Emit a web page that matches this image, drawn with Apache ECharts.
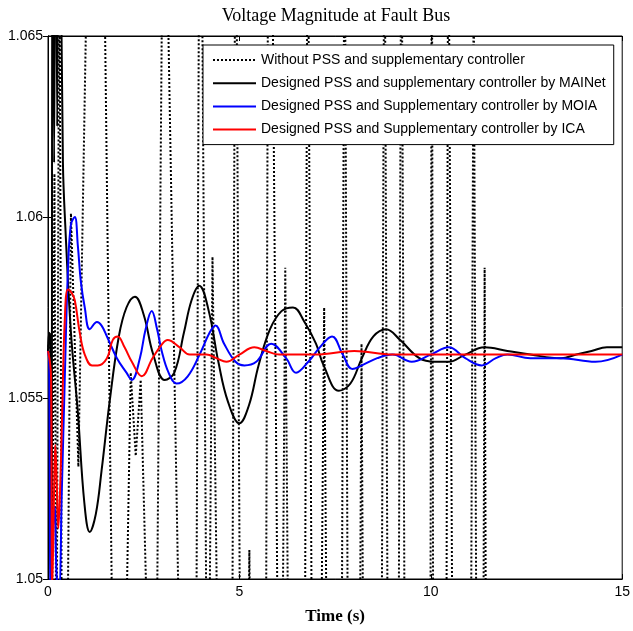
<!DOCTYPE html>
<html>
<head>
<meta charset="utf-8">
<script src="https://cdn.jsdelivr.net/npm/echarts@6/dist/echarts.min.js"></script>
<style>html,body{margin:0;padding:0;background:#fff}#c{width:633px;height:631px}</style>
</head>
<body>
<div id="c"></div>
<script>
const chartTitle = 'Voltage Magnitude at Fault Bus';
const xAxisName = 'Time (s)';
const xTickLabels = ['0', '5', '10', '15'];
const yTickLabels = ['1.05', '1.055', '1.06', '1.065'];
const seriesNames = [
  'Without PSS and supplementary controller',
  'Designed PSS and supplementary controller by MAINet',
  'Designed PSS and Supplementary controller by MOIA',
  'Designed PSS and Supplementary controller by ICA'
];

// Without PSS (dotted) - fast large oscillation, mostly outside the visible range
const tNoPSS = [0, 0.052, 0.091, 0.169, 0.221, 0.299, 0.365, 0.495, 0.599, 0.794, 1.068, 1.380, 1.719, 2.018, 2.161, 2.292, 2.422, 2.630, 2.826, 3.008, 3.047, 3.464, 3.867, 3.953, 3.997, 4.154, 4.206, 4.297, 4.453, 4.805, 4.896, 4.909, 5.026, 5.221, 5.260, 5.299, 5.690, 5.755, 5.833, 6.016, 6.120, 6.198, 6.289, 6.706, 6.784, 6.810, 6.901, 7.122, 7.214, 7.292, 7.669, 7.747, 7.760, 7.839, 8.138, 8.190, 8.242, 8.711, 8.789, 8.802, 8.880, 9.154, 9.232, 9.245, 9.323, 9.987, 10.026, 10.065, 10.404, 10.456, 10.508, 10.573, 11.042, 11.120, 11.198, 11.367, 11.406, 11.445];
const vNoPSS = [1.0563, 1.0568, 1.046, 1.0612, 1.046, 1.069, 1.046, 1.046, 1.0601, 1.0531, 1.070, 1.075, 1.045, 1.047, 1.0557, 1.0534, 1.0555, 1.047, 1.046, 1.070, 1.071, 1.046, 1.046, 1.069, 1.071, 1.046, 1.047, 1.0589, 1.046, 1.046, 1.069, 1.070, 1.046, 1.046, 1.0508, 1.046, 1.046, 1.070, 1.071, 1.046, 1.047, 1.0586, 1.046, 1.046, 1.070, 1.070, 1.046, 1.046, 1.0575, 1.046, 1.046, 1.070, 1.070, 1.046, 1.046, 1.0565, 1.046, 1.046, 1.070, 1.070, 1.046, 1.046, 1.070, 1.070, 1.046, 1.046, 1.070, 1.046, 1.046, 1.070, 1.070, 1.046, 1.046, 1.0665, 1.046, 1.046, 1.0586, 1.046];

// MAINet (black)
const tMAINet = [0, 0.03, 0.06, 0.09, 0.12, 0.16, 0.20, 0.24, 0.28, 0.33, 0.39, 0.45, 0.60, 0.78, 0.95, 1.09, 1.25, 1.40, 1.61, 1.85, 2.05, 2.27, 2.50, 2.75, 3.05, 3.30, 3.55, 3.75, 3.95, 4.20, 4.45, 4.70, 5.00, 5.25, 5.50, 5.80, 6.10, 6.40, 6.70, 7.00, 7.20, 7.60, 7.90, 8.20, 8.50, 8.83, 9.20, 9.70, 10.10, 10.47, 10.90, 11.40, 12.00, 12.60, 13.40, 13.80, 14.20, 14.60, 15.00];
const vMAINet = [1.0563, 1.0568, 1.0566, 1.0460, 1.0720, 1.0615, 1.0720, 1.0625, 1.0720, 1.0680, 1.0615, 1.0598, 1.0568, 1.0546, 1.0521, 1.0513, 1.0518, 1.0530, 1.0549, 1.0567, 1.0575, 1.0578, 1.0573, 1.0562, 1.0555, 1.0557, 1.0568, 1.0577, 1.0581, 1.0574, 1.0560, 1.0549, 1.0543, 1.0548, 1.0559, 1.0569, 1.0574, 1.0575, 1.0571, 1.0565, 1.0559, 1.0552, 1.0554, 1.0561, 1.0567, 1.0569, 1.0566, 1.0561, 1.0560, 1.0560, 1.0562, 1.0564, 1.0563, 1.0562, 1.0561, 1.0562, 1.0563, 1.0564, 1.0564];

// MOIA (blue)
const tMOIA = [0, 0.03, 0.07, 0.12, 0.17, 0.23, 0.29, 0.36, 0.44, 0.52, 0.60, 0.70, 0.78, 0.86, 0.96, 1.09, 1.28, 1.40, 1.54, 1.80, 2.05, 2.19, 2.40, 2.55, 2.71, 2.85, 2.97, 3.15, 3.36, 3.65, 3.96, 4.22, 4.375, 4.60, 4.90, 5.13, 5.44, 5.83, 6.22, 6.48, 6.80, 7.10, 7.42, 7.70, 7.95, 8.20, 8.60, 9.00, 9.50, 10.00, 10.47, 10.90, 11.33, 11.70, 12.00, 12.60, 13.40, 14.30, 15.00];
const vMOIA = [1.0563, 1.0560, 1.0496, 1.0512, 1.0520, 1.0500, 1.0498, 1.0524, 1.0556, 1.0585, 1.0598, 1.0600, 1.0592, 1.0582, 1.0575, 1.0569, 1.0571, 1.0570, 1.0567, 1.0561, 1.0557, 1.0555, 1.0561, 1.0569, 1.0574, 1.0569, 1.0563, 1.0557, 1.0554, 1.0556, 1.0562, 1.0568, 1.0570, 1.0565, 1.0560, 1.0559, 1.0560, 1.0565, 1.0561, 1.0557, 1.0560, 1.0564, 1.0567, 1.0562, 1.0558, 1.0559, 1.0561, 1.0562, 1.0560, 1.0562, 1.0564, 1.0561, 1.0559, 1.0561, 1.0562, 1.0561, 1.0561, 1.0560, 1.0562];

// ICA (red)
const tICA = [0, 0.05, 0.08, 0.11, 0.16, 0.19, 0.23, 0.27, 0.32, 0.37, 0.44, 0.52, 0.62, 0.70, 0.83, 0.96, 1.15, 1.30, 1.54, 1.69, 1.82, 2.00, 2.19, 2.45, 2.73, 2.99, 3.125, 3.44, 3.70, 4.14, 4.40, 4.66, 5.00, 5.39, 5.70, 6.04, 7.00, 8.00, 9.00, 10.00, 11.00, 12.00, 13.00, 14.00, 15.00];
const vICA = [1.0563, 1.0560, 1.0556, 1.0497, 1.0525, 1.0537, 1.0526, 1.0514, 1.0526, 1.0546, 1.0572, 1.0580, 1.0579, 1.0577, 1.0568, 1.0562, 1.0559, 1.0559, 1.0561, 1.0566, 1.0567, 1.0564, 1.0560, 1.0556, 1.0561, 1.0565, 1.0566, 1.0564, 1.0562, 1.0562, 1.0561, 1.0560, 1.0562, 1.0564, 1.0563, 1.0562, 1.0562, 1.0563, 1.0562, 1.0562, 1.0562, 1.0562, 1.0562, 1.0562, 1.0562];

const xMin = 0, xMax = 15, xStep = 5;
const yMin = 1.05, yMax = 1.065, yStep = 0.005;

function pairs(t, v) { return t.map((x, i) => [x, v[i]]); }

const sans = 'Liberation Sans, Arial, Helvetica, sans-serif';
const serif = 'Liberation Serif, Times New Roman, serif';

const baseX = {
  type: 'value', min: xMin, max: xMax, interval: xStep,
  splitLine: { show: false },
  axisLine: { show: true, lineStyle: { color: '#000', width: 1 } },
  axisTick: { show: true, inside: true, length: 5, lineStyle: { color: '#000', width: 1 } }
};
const baseY = {
  type: 'value', min: yMin, max: yMax, interval: yStep,
  splitLine: { show: false },
  axisLine: { show: true, lineStyle: { color: '#000', width: 1 } },
  axisTick: { show: true, inside: true, length: 5, lineStyle: { color: '#000', width: 1 } }
};

const chart = echarts.init(document.getElementById('c'), null, { renderer: 'canvas' });
chart.setOption({
  animation: false,
  backgroundColor: '#fff',
  title: {
    text: chartTitle, left: 336, top: 7, padding: 0, textAlign: 'center',
    textStyle: { fontFamily: serif, fontSize: 18, fontWeight: 'normal', color: '#000' }
  },
  grid: { left: 48, right: 9, top: 36, bottom: 52, show: true, borderColor: '#000', borderWidth: 1, backgroundColor: 'transparent' },
  legend: {
    orient: 'vertical', left: 203, top: 45,
    padding: [8, 8, 8, 9],
    itemWidth: 43, itemHeight: 14, itemGap: 9.2,
    backgroundColor: '#fff', borderColor: '#000', borderWidth: 1, borderRadius: 0,
    itemStyle: { color: 'rgba(0,0,0,0)', borderColor: 'rgba(0,0,0,0)', borderWidth: 0 },
    textStyle: { fontFamily: sans, fontSize: 14, color: '#000' },
    data: seriesNames
  },
  xAxis: [
    Object.assign({}, baseX, {
      position: 'bottom',
      name: xAxisName, nameLocation: 'middle', nameGap: 29,
      nameTextStyle: { fontFamily: serif, fontSize: 17, fontWeight: 'bold', color: '#000' },
      axisLabel: { show: true, margin: 6, fontFamily: sans, fontSize: 14, color: '#000',
        formatter: v => xTickLabels[Math.round((v - xMin) / xStep)] }
    }),
    Object.assign({}, baseX, { position: 'top', axisLabel: { show: false } })
  ],
  yAxis: [
    Object.assign({}, baseY, {
      position: 'left',
      axisLabel: { show: true, margin: 5, fontFamily: sans, fontSize: 14, color: '#000',
        formatter: v => yTickLabels[Math.round((v - yMin) / yStep)] }
    }),
    Object.assign({}, baseY, { position: 'right', axisLabel: { show: false } })
  ],
  series: [
    { name: seriesNames[0], type: 'line', data: pairs(tNoPSS, vNoPSS), symbol: 'none', smooth: false,
      clip: true, color: '#000', lineStyle: { color: '#000', width: 2, type: [2, 2] } },
    { name: seriesNames[1], type: 'line', data: pairs(tMAINet, vMAINet), symbol: 'none', smooth: 0.4,
      clip: true, color: '#000', lineStyle: { color: '#000', width: 2 } },
    { name: seriesNames[2], type: 'line', data: pairs(tMOIA, vMOIA), symbol: 'none', smooth: 0.4,
      clip: true, color: '#0000ff', lineStyle: { color: '#0000ff', width: 2 } },
    { name: seriesNames[3], type: 'line', data: pairs(tICA, vICA), symbol: 'none', smooth: 0.4,
      clip: true, color: '#ff0000', lineStyle: { color: '#ff0000', width: 2 } }
  ]
});
</script>
</body>
</html>
